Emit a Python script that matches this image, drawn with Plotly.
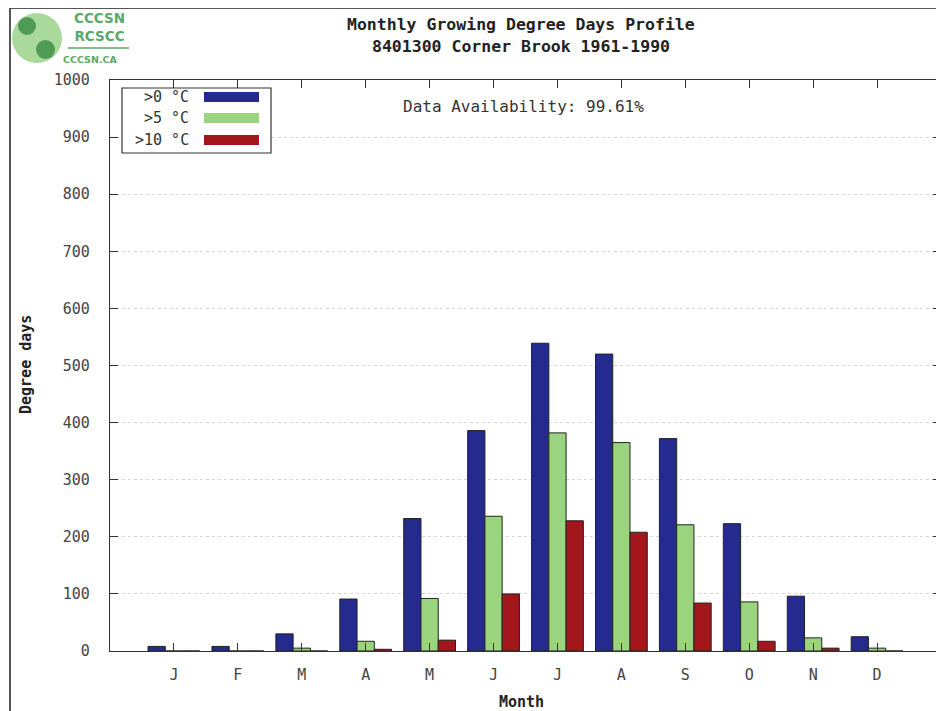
import plotly.graph_objects as go

months = ["J", "F", "M", "A", "M", "J", "J", "A", "S", "O", "N", "D"]
month_pos = list(range(1, 13))
gdd_0 = [8, 8, 30, 91, 232, 386, 539, 520, 372, 223, 96, 25]
gdd_5 = [0, 0, 5, 17, 92, 236, 382, 365, 221, 86, 23, 5]
gdd_10 = [0, 0, 0, 3, 19, 100, 228, 208, 84, 17, 5, 0]
series_names = [">0 °C", ">5 °C", ">10 °C"]
series_colors = ["#242a8e", "#9ad47e", "#a3161b"]
y_ticks = list(range(0, 1001, 100))

OFF = 8  # page body margin
W, H = 944 - OFF, 711 - OFF
# plot area in page pixels
L, R, T, B = 110, 941, 80, 651


def px(x):
    return (x - L) / (R - L)


def py(y):
    return (B - y) / (B - T)


fig = go.Figure()
for name, vals, col in zip(series_names, [gdd_0, gdd_5, gdd_10], series_colors):
    fig.add_trace(go.Bar(x=month_pos, y=vals, name=name, marker_color=col,
                         marker_line_color="#222222", marker_line_width=1,
                         showlegend=False))

mono = "DejaVu Sans Mono"
annotations = [
    dict(text="<b>Monthly Growing Degree Days Profile</b>", x=px(521), y=py(25),
         font=dict(size=16.5, color="#222")),
    dict(text="<b>8401300 Corner Brook 1961-1990</b>", x=px(521), y=py(46),
         font=dict(size=16.5, color="#222")),
    dict(text="Data Availability: 99.61%", x=px(523), y=py(106),
         font=dict(size=16, color="#333")),
    dict(text="<b>Degree days</b>", x=px(26), y=py(365), textangle=-90,
         font=dict(size=15, color="#222")),
    dict(text="<b>Month</b>", x=px(521), y=py(702),
         font=dict(size=15, color="#222")),
]
leg_y = [97, 118, 140]
shapes = [
    dict(type="rect", xref="paper", yref="paper", x0=px(122), x1=px(271),
         y0=py(153), y1=py(88), line=dict(color="#333", width=1.2),
         fillcolor="white", layer="above"),
]
for name, col, yy in zip(series_names, series_colors, leg_y):
    annotations.append(dict(text=name, x=px(191), y=py(yy), xanchor="right",
                            font=dict(size=15, color="#333")))
    shapes.append(dict(type="rect", xref="paper", yref="paper", x0=px(204), x1=px(259),
                       y0=py(yy + 5), y1=py(yy - 5), fillcolor=col,
                       line=dict(width=0), layer="above"))

# logo
shapes += [
    dict(type="circle", xref="paper", yref="paper", x0=px(12), x1=px(62),
         y0=py(63), y1=py(13), fillcolor="#a9d99b", line=dict(width=0)),
    dict(type="circle", xref="paper", yref="paper", x0=px(18), x1=px(36),
         y0=py(35), y1=py(17), fillcolor="#4f9a55", line=dict(width=0)),
    dict(type="circle", xref="paper", yref="paper", x0=px(36), x1=px(55),
         y0=py(59), y1=py(40), fillcolor="#4f9a55", line=dict(width=0)),
    dict(type="line", xref="paper", yref="paper", x0=px(68), x1=px(129),
         y0=py(48), y1=py(48), line=dict(color="#5aa86a", width=1.5)),
    # outer frame
    dict(type="line", xref="paper", yref="paper", x0=px(10), x1=px(950),
         y0=py(8), y1=py(8), line=dict(color="#555", width=2)),
    dict(type="line", xref="paper", yref="paper", x0=px(10), x1=px(10),
         y0=py(8), y1=py(720), line=dict(color="#555", width=2)),
]
annotations += [
    dict(text="<b>CCCSN<br>RCSCC</b>", x=px(99), y=py(27),
         font=dict(family="DejaVu Sans", size=13.5, color="#5aa86a")),
    dict(text="<b>CCCSN.CA</b>", x=px(90), y=py(59),
         font=dict(family="DejaVu Sans", size=9.5, color="#5aa86a")),
]
for a in annotations:
    a.setdefault("xref", "paper")
    a.setdefault("yref", "paper")
    a.setdefault("showarrow", False)
    a.setdefault("xanchor", "center")
    a["yanchor"] = "middle"
    a["font"].setdefault("family", mono)

fig.update_layout(
    width=W, height=H,
    margin=dict(l=L - OFF, r=W - (R - OFF), t=T - OFF, b=H - (B - OFF)),
    paper_bgcolor="white", plot_bgcolor="white",
    barmode="group", bargap=0.19, bargroupgap=0,
    font=dict(family=mono, size=15, color="#444"),
    annotations=annotations, shapes=shapes,
    xaxis=dict(range=[0, 13], tickvals=month_pos, ticktext=months,
               ticks="inside", ticklen=8, tickcolor="#333", showline=True,
               linecolor="#333", linewidth=1.2, mirror="allticks",
               showgrid=False, zeroline=False, ticklabelstandoff=10),
    yaxis=dict(range=[0, 1000], tickvals=y_ticks,
               ticks="inside", ticklen=8, tickcolor="#333", showline=True,
               linecolor="#333", linewidth=1.2, mirror="allticks",
               showgrid=True, gridcolor="#d5d5d5", griddash="dot", gridwidth=1,
               zeroline=False, ticklabelstandoff=16),
)
fig.write_html("out.html")
